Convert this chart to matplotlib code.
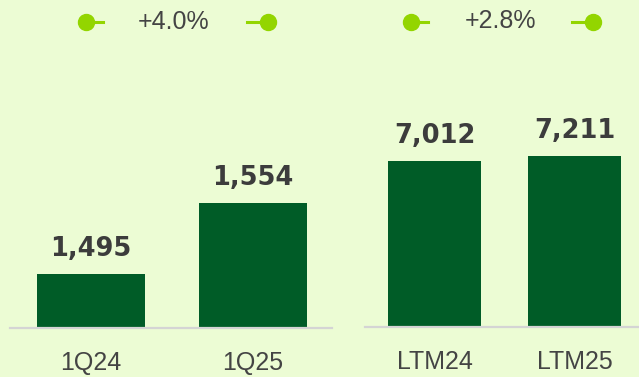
import matplotlib.pyplot as plt
from matplotlib.lines import Line2D

# quarterly and last-twelve-months figures
quarter_labels = ['1Q24', '1Q25']
quarter_values = [1495, 1554]
ltm_labels = ['LTM24', 'LTM25']
ltm_values = [7012, 7211]
growth_labels = ['+4.0%', '+2.8%']

BG = '#ecfcd4'
BAR = '#005c27'
LIME = '#93d500'
TEXT = '#3c3c3c'

W, H = 639, 377
fig = plt.figure(figsize=(W / 100, H / 100), dpi=100, facecolor=BG)


def px_axes(x0, y0, x1, y1):
    # axes placed in pixel units, measured from the top-left corner
    ax = fig.add_axes([x0 / W, 1 - y1 / H, (x1 - x0) / W, (y1 - y0) / H])
    ax.set_facecolor(BG)
    return ax


def draw_panel(ax, labels, values, ylim, xlim, width):
    x = range(len(values))
    ax.bar(x, values, width=width, color=BAR, zorder=2)
    ax.set_ylim(*ylim)
    ax.set_xlim(*xlim)
    for i, v in zip(x, values):
        ax.annotate(f'{v:,}', (i, v), xytext=(0, 13), textcoords='offset points',
                    ha='center', va='baseline', fontsize=18.5, fontweight='bold',
                    color=TEXT, family='DejaVu Sans')
    ax.set_xticks(list(x))
    ax.set_xticklabels(labels, fontsize=18, color='#444444', family='Liberation Sans')
    for lbl in ax.get_xticklabels():
        lbl.set_va('baseline')
    ax.tick_params(axis='x', length=0, pad=30)
    ax.set_yticks([])
    for side in ['top', 'left', 'right']:
        ax.spines[side].set_visible(False)
    ax.spines['bottom'].set_color('#d4d4d4')
    ax.spines['bottom'].set_linewidth(1.6)
    ax.spines['bottom'].set_zorder(3)


left = px_axes(10, 0, 332, 328)
draw_panel(left, quarter_labels, quarter_values, (1450, 1722.6), (-0.50, 1.49), 0.67)

right = px_axes(365, 0, 639, 327)
draw_panel(right, ltm_labels, ltm_values, (300, 13539), (-0.496, 1.46), 0.665)

# growth connectors across the top
over = fig.add_axes([0, 0, 1, 1])
over.set_xlim(0, W)
over.set_ylim(H, 0)
over.axis('off')
over.patch.set_alpha(0)


def growth(cx_left, cx_right, cx_text, y, label):
    over.add_line(Line2D([cx_left, cx_left + 17], [y, y], color=LIME, lw=2.2))
    over.add_line(Line2D([cx_right - 21, cx_right], [y, y], color=LIME, lw=2.2))
    over.plot([cx_left, cx_right], [y, y], 'o', color=LIME, ms=11.5, lw=0)
    over.text(cx_text, y, label, ha='center', va='center', fontsize=18,
              color='#444444', family='Liberation Sans')


growth(85.5, 267.5, 174, 22, growth_labels[0])
growth(411, 593, 500, 21.5, growth_labels[1])

fig.savefig('out.png', dpi=100, facecolor=BG)
